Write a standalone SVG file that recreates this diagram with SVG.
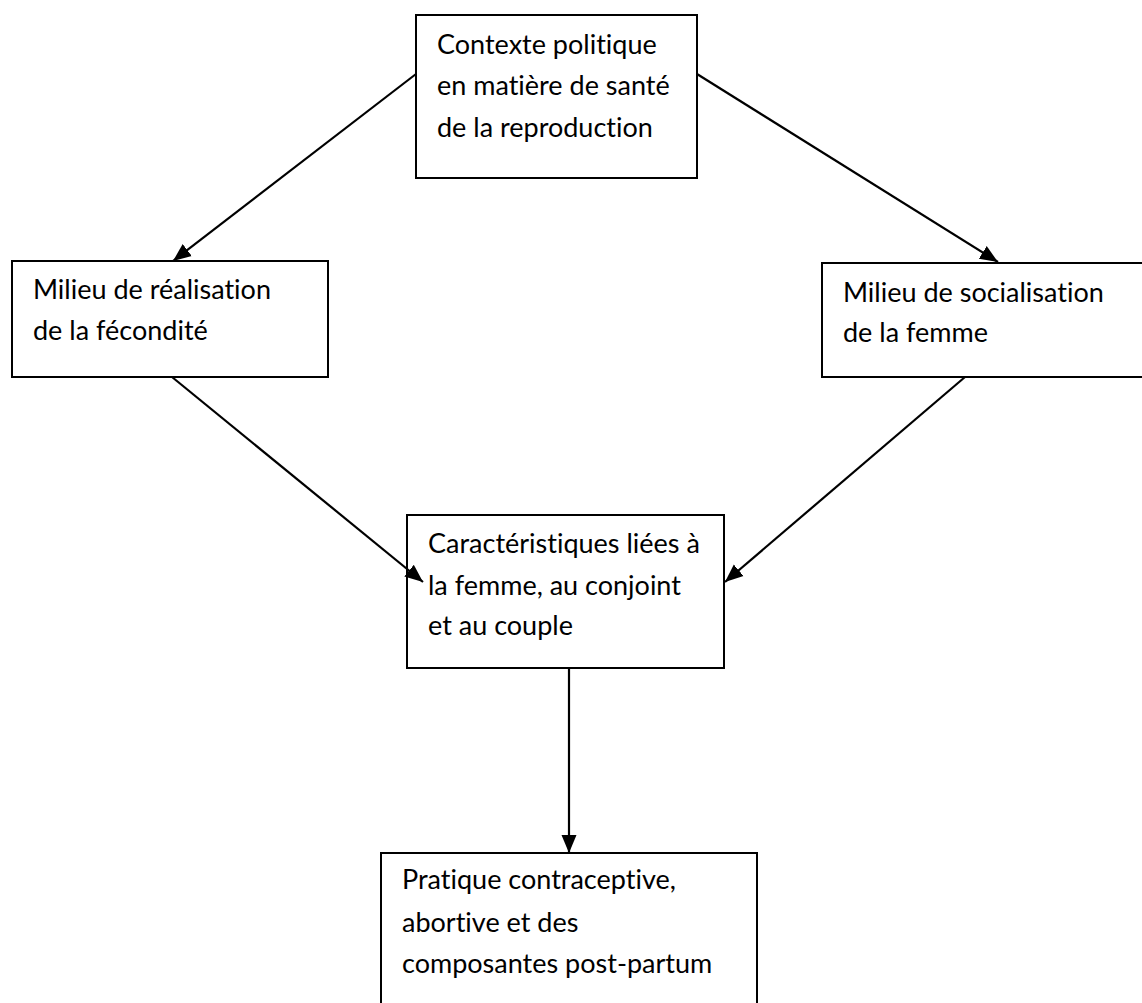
<svg xmlns="http://www.w3.org/2000/svg" width="1142" height="1003" viewBox="0 0 1142 1003">
  <style>
    .box { fill: #ffffff; stroke: #000000; stroke-width: 2; }
    .lbl { font-family: Lato, "Liberation Sans", sans-serif; font-size: 27px; fill: #000000; font-variant-ligatures: none; font-feature-settings: "liga" 0, "clig" 0; }
    .conn { stroke: #000000; stroke-width: 2.2; fill: none; marker-end: url(#arrow); }
  </style>
  <defs>
    <marker id="arrow" markerUnits="userSpaceOnUse" markerWidth="20" markerHeight="18" viewBox="0 0 20 18" refX="18" refY="9" orient="auto">
      <path d="M0,1.5 L18,9 L0,16.5 Z" fill="#000000"/>
    </marker>
  </defs>
  <rect x="0" y="0" width="1142" height="1003" fill="#ffffff"/>
  <g id="node-contexte">
    <rect class="box" x="416" y="15" width="281" height="163"/>
    <text class="lbl" x="437" y="54">Contexte politique</text>
    <text class="lbl" x="437" y="95">en matière de santé</text>
    <text class="lbl" x="437" y="137">de la reproduction</text>
  </g>
  <g id="node-realisation">
    <rect class="box" x="12" y="261" width="316" height="116"/>
    <text class="lbl" x="33" y="299">Milieu de réalisation</text>
    <text class="lbl" x="33" y="340">de la fécondité</text>
  </g>
  <g id="node-socialisation">
    <rect class="box" x="822" y="263" width="330" height="114"/>
    <text class="lbl" x="843" y="302">Milieu de socialisation</text>
    <text class="lbl" x="843" y="342">de la femme</text>
  </g>
  <g id="node-caracteristiques">
    <rect class="box" x="407" y="515" width="317" height="153"/>
    <text class="lbl" x="428" y="553">Caractéristiques liées à</text>
    <text class="lbl" x="428" y="595">la femme, au conjoint</text>
    <text class="lbl" x="428" y="635">et au couple</text>
  </g>
  <g id="node-pratique">
    <rect class="box" x="381" y="853" width="376" height="160"/>
    <text class="lbl" x="402" y="889">Pratique contraceptive,</text>
    <text class="lbl" x="402" y="932">abortive et des</text>
    <text class="lbl" x="402" y="973">composantes post-partum</text>
  </g>
  <g id="connectors">
    <line class="conn" x1="416" y1="74" x2="173" y2="261"/>
    <line class="conn" x1="697" y1="74" x2="998" y2="262"/>
    <line class="conn" x1="172" y1="377" x2="423" y2="582"/>
    <line class="conn" x1="965" y1="377" x2="725" y2="582"/>
    <line class="conn" x1="569" y1="668" x2="569" y2="853"/>
  </g>
</svg>
